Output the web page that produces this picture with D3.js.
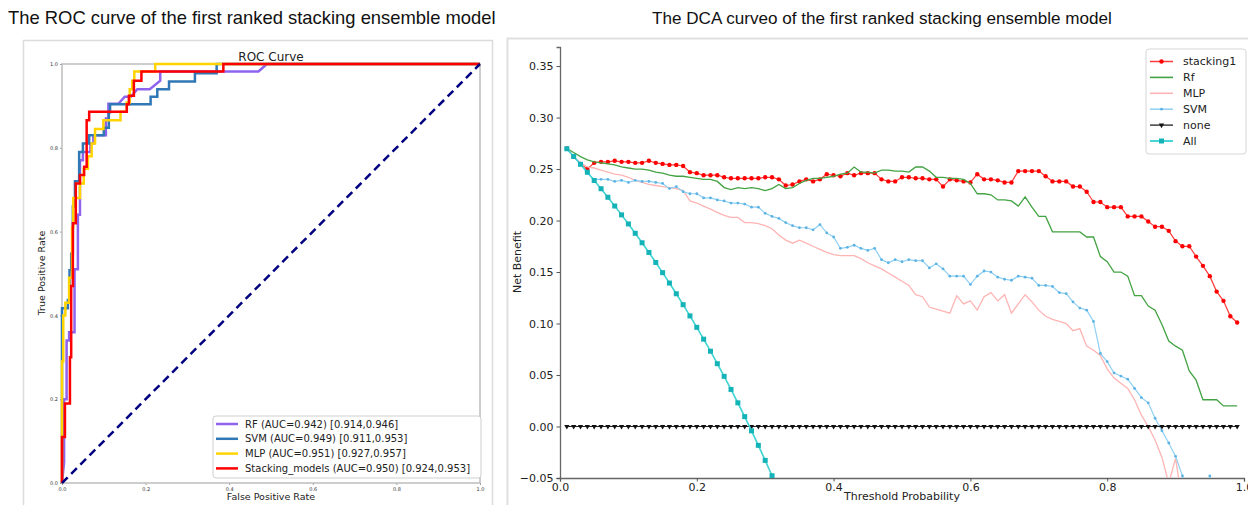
<!DOCTYPE html>
<html>
<head>
<meta charset="utf-8">
<script src="https://cdn.jsdelivr.net/npm/d3@7"></script>
<style>
  body { margin: 0; background: #fff; }
  svg { display: block; font-family: "DejaVu Sans", sans-serif; }
</style>
</head>
<body>
<svg id="chart" width="1248" height="505"></svg>
<script>
// ---------- ROC data (fpr, tpr corners) ----------
const rocTicks = [0, 0.2, 0.4, 0.6, 0.8, 1.0]
const rocDiagonal = [[0, 0], [1, 1]]

const rocRF = [[0,0],[0.005,0.05],[0.005,0.2],[0.011,0.2],[0.011,0.34],[0.017,0.34],[0.017,0.36],[0.03,0.36],[0.03,0.51],[0.038,0.51],[0.038,0.64],[0.043,0.64],[0.043,0.77],[0.05,0.77],[0.05,0.79],[0.068,0.79],[0.068,0.81],[0.075,0.81],[0.075,0.83],[0.105,0.83],[0.105,0.87],[0.111,0.87],[0.111,0.905],[0.135,0.905],[0.15,0.922],[0.165,0.922],[0.18,0.94],[0.21,0.94],[0.235,0.96],[0.235,0.982],[0.47,0.982],[0.49,1],[1,1]]
const rocSVM = [[0,0],[0,0.417],[0.014,0.417],[0.014,0.437],[0.018,0.437],[0.018,0.508],[0.022,0.508],[0.022,0.547],[0.026,0.547],[0.026,0.66],[0.031,0.66],[0.031,0.72],[0.041,0.72],[0.041,0.79],[0.05,0.79],[0.05,0.81],[0.065,0.81],[0.065,0.83],[0.1,0.83],[0.1,0.848],[0.112,0.848],[0.112,0.885],[0.115,0.885],[0.115,0.904],[0.212,0.904],[0.212,0.922],[0.228,0.922],[0.228,0.94],[0.256,0.94],[0.256,0.958],[0.318,0.958],[0.318,0.978],[0.37,0.978],[0.37,1],[1,1]]
const rocMLP = [[0,0],[0,0.29],[0.003,0.29],[0.003,0.4],[0.008,0.4],[0.008,0.43],[0.017,0.43],[0.017,0.49],[0.024,0.49],[0.024,0.61],[0.027,0.61],[0.027,0.68],[0.043,0.68],[0.043,0.715],[0.052,0.715],[0.052,0.75],[0.062,0.75],[0.062,0.78],[0.071,0.78],[0.071,0.81],[0.079,0.81],[0.079,0.845],[0.099,0.845],[0.099,0.866],[0.14,0.866],[0.14,0.886],[0.155,0.886],[0.155,0.908],[0.162,0.908],[0.162,0.94],[0.168,0.94],[0.168,0.96],[0.173,0.96],[0.173,0.982],[0.223,0.982],[0.223,1],[1,1]]
const rocStack = [[0,0],[0,0.11],[0.007,0.11],[0.007,0.19],[0.019,0.19],[0.019,0.30],[0.022,0.30],[0.022,0.47],[0.026,0.47],[0.026,0.62],[0.033,0.62],[0.033,0.715],[0.043,0.715],[0.043,0.735],[0.053,0.735],[0.053,0.755],[0.059,0.755],[0.059,0.866],[0.065,0.866],[0.065,0.886],[0.155,0.886],[0.155,0.904],[0.160,0.904],[0.160,0.924],[0.172,0.924],[0.172,0.96],[0.19,0.96],[0.19,0.982],[0.386,0.982],[0.386,1],[1,1]]

const rocLabels = [
  "RF (AUC=0.942) [0.914,0.946]",
  "SVM (AUC=0.949) [0.911,0.953]",
  "MLP (AUC=0.951) [0.927,0.957]",
  "Stacking_models (AUC=0.950) [0.924,0.953]"
]

// ---------- DCA data ----------
const thresholds = [
  0.01,0.02,0.03,0.04,0.05,0.06,0.07,0.08,0.09,0.10,
  0.11,0.12,0.13,0.14,0.15,0.16,0.17,0.18,0.19,0.20,
  0.21,0.22,0.23,0.24,0.25,0.26,0.27,0.28,0.29,0.30,
  0.31,0.32,0.33,0.34,0.35,0.36,0.37,0.38,0.39,0.40,
  0.41,0.42,0.43,0.44,0.45,0.46,0.47,0.48,0.49,0.50,
  0.51,0.52,0.53,0.54,0.55,0.56,0.57,0.58,0.59,0.60,
  0.61,0.62,0.63,0.64,0.65,0.66,0.67,0.68,0.69,0.70,
  0.71,0.72,0.73,0.74,0.75,0.76,0.77,0.78,0.79,0.80,
  0.81,0.82,0.83,0.84,0.85,0.86,0.87,0.88,0.89,0.90,
  0.91,0.92,0.93,0.94,0.95,0.96,0.97,0.98,0.99
]
const stacking1 = [
  0.270,0.262,0.255,0.250,0.256,0.257,0.257,0.258,0.257,0.257,
  0.256,0.256,0.258,0.256,0.255,0.254,0.254,0.253,0.247,0.246,
  0.244,0.244,0.244,0.242,0.241,0.241,0.241,0.241,0.241,0.242,
  0.242,0.240,0.234,0.235,0.238,0.240,0.238,0.240,0.245,0.244,
  0.243,0.246,0.244,0.246,0.246,0.246,0.240,0.238,0.238,0.242,
  0.242,0.241,0.241,0.240,0.240,0.233,0.240,0.239,0.238,0.237,
  0.245,0.240,0.240,0.239,0.237,0.237,0.248,0.248,0.248,0.248,
  0.243,0.238,0.238,0.238,0.233,0.233,0.228,0.218,0.218,0.213,
  0.213,0.213,0.204,0.204,0.204,0.199,0.194,0.194,0.190,0.180,
  0.175,0.175,0.165,0.156,0.146,0.131,0.122,0.107,0.101
]
const rf = [
  0.270,0.266,0.262,0.259,0.257,0.256,0.255,0.254,0.252,0.251,
  0.250,0.250,0.249,0.247,0.246,0.244,0.243,0.243,0.242,0.241,
  0.240,0.240,0.238,0.232,0.230,0.232,0.231,0.232,0.231,0.229,
  0.231,0.235,0.231,0.232,0.236,0.239,0.241,0.241,0.242,0.243,
  0.245,0.246,0.252,0.247,0.247,0.246,0.249,0.249,0.248,0.248,
  0.247,0.252,0.252,0.248,0.242,0.242,0.241,0.241,0.240,0.236,
  0.226,0.226,0.225,0.220,0.220,0.219,0.214,0.223,0.213,0.204,
  0.204,0.189,0.189,0.189,0.189,0.189,0.184,0.184,0.165,0.160,
  0.150,0.150,0.146,0.127,0.127,0.117,0.113,0.099,0.083,0.078,
  0.074,0.054,0.045,0.026,0.026,0.026,0.020,0.020,0.020
]
const mlp = [
  0.270,0.262,0.256,0.252,0.251,0.249,0.247,0.245,0.244,0.242,
  0.239,0.237,0.235,0.234,0.233,0.232,0.231,0.229,0.219,0.217,
  0.214,0.211,0.208,0.205,0.203,0.203,0.198,0.198,0.197,0.195,
  0.192,0.186,0.181,0.178,0.181,0.178,0.175,0.172,0.169,0.167,
  0.166,0.166,0.166,0.163,0.159,0.156,0.153,0.149,0.145,0.141,
  0.137,0.128,0.126,0.116,0.114,0.112,0.110,0.127,0.119,0.122,
  0.113,0.126,0.130,0.122,0.128,0.110,0.119,0.128,0.121,0.113,
  0.107,0.104,0.102,0.100,0.093,0.095,0.078,0.074,0.069,0.056,
  0.047,0.042,0.037,0.026,0.011,0.000,-0.013,-0.030,-0.055,-0.031,
  -0.075,-0.095,-0.115,-0.135,-0.155,-0.175,-0.195,-0.215,-0.235
]
const svm = [
  0.270,0.262,0.255,0.246,0.240,0.240,0.240,0.238,0.239,0.237,
  0.239,0.238,0.238,0.237,0.236,0.231,0.233,0.228,0.226,0.226,
  0.222,0.222,0.220,0.219,0.217,0.217,0.216,0.213,0.213,0.207,
  0.204,0.202,0.198,0.195,0.193,0.193,0.191,0.196,0.188,0.184,
  0.173,0.174,0.176,0.173,0.171,0.173,0.162,0.159,0.162,0.160,
  0.162,0.161,0.161,0.154,0.158,0.153,0.146,0.146,0.146,0.138,
  0.146,0.151,0.150,0.145,0.143,0.142,0.146,0.145,0.144,0.137,
  0.137,0.136,0.130,0.129,0.121,0.115,0.113,0.102,0.071,0.063,
  0.052,0.049,0.046,0.037,0.028,0.023,0.008,-0.004,-0.016,-0.029,
  -0.048,-0.075,-0.090,-0.070,-0.048,-0.080,-0.110,-0.140,-0.170
]
const none = [
  0,0,0,0,0,0,0,0,0,0, 0,0,0,0,0,0,0,0,0,0,
  0,0,0,0,0,0,0,0,0,0, 0,0,0,0,0,0,0,0,0,0,
  0,0,0,0,0,0,0,0,0,0, 0,0,0,0,0,0,0,0,0,0,
  0,0,0,0,0,0,0,0,0,0, 0,0,0,0,0,0,0,0,0,0,
  0,0,0,0,0,0,0,0,0,0, 0,0,0,0,0,0,0,0,0
]
// treat-all curve, only the visible part (0.01 .. 0.32)
const treatAll = [
  0.2697,0.2622,0.2546,0.2469,0.2389,0.2309,0.2226,0.2141,0.2055,0.1967,
  0.1876,0.1784,0.1690,0.1593,0.1494,0.1393,0.1289,0.1183,0.1074,0.0963,
  0.0848,0.0731,0.0610,0.0487,0.0360,0.0230,0.0096,-0.0042,-0.0183,-0.0329,
  -0.0478,-0.0632
]
const dcaXTicks = [0, 0.2, 0.4, 0.6, 0.8, 1.0]
const dcaYTicks = [-0.05, 0, 0.05, 0.10, 0.15, 0.20, 0.25, 0.30, 0.35]

const svg = d3.select("#chart")
svg.append("rect").attr("width", 1248).attr("height", 505).attr("fill", "#fff")

// page titles
const titleFont = "Arial, 'Liberation Sans', sans-serif"
svg.append("text")
  .attr("x", 8).attr("y", 24)
  .attr("font-family", titleFont).attr("font-size", 18.4).attr("fill", "#111")
  .text("The ROC curve of the first ranked stacking ensemble model")
svg.append("text")
  .attr("x", 882).attr("y", 24).attr("text-anchor", "middle")
  .attr("font-family", titleFont).attr("font-size", 17.1).attr("fill", "#111")
  .text("The DCA curveo of the first ranked stacking ensemble model")

// panel frames
svg.append("rect")
  .attr("x", 23.5).attr("y", 40.5).attr("width", 469).attr("height", 475)
  .attr("fill", "none").attr("stroke", "#dcdcdc").attr("stroke-width", 1.5)
svg.append("rect")
  .attr("x", 507.5).attr("y", 38.5).attr("width", 760).attr("height", 480)
  .attr("fill", "none").attr("stroke", "#e0e0e0").attr("stroke-width", 2)

// ================= ROC panel =================
const xR = d3.scaleLinear().domain([0, 1]).range([62, 480])
const yR = d3.scaleLinear().domain([0, 1]).range([483, 64])
const roc = svg.append("g")

const rocXAxis = roc.append("g")
  .attr("transform", `translate(0,${yR(0)})`)
  .call(d3.axisBottom(xR).tickValues(rocTicks).tickFormat(d3.format(".1f")).tickSize(2).tickPadding(2))
const rocYAxis = roc.append("g")
  .attr("transform", `translate(${xR(0)},0)`)
  .call(d3.axisLeft(yR).tickValues(rocTicks).tickFormat(d3.format(".1f")).tickSize(2).tickPadding(2))
;[rocXAxis, rocYAxis].forEach(a => {
  a.select(".domain").remove()
  a.selectAll(".tick line").attr("stroke", "#999")
  a.selectAll(".tick text").attr("font-size", 5).attr("fill", "#333")
    .attr("font-family", "'DejaVu Sans', sans-serif")
})

roc.append("rect")
  .attr("x", xR(0)).attr("y", yR(1))
  .attr("width", xR(1) - xR(0)).attr("height", yR(0) - yR(1))
  .attr("fill", "none").attr("stroke", "#bdbdbd").attr("stroke-width", 1.5)

roc.append("text")
  .attr("x", 271).attr("y", 61).attr("text-anchor", "middle")
  .attr("font-size", 12).attr("fill", "#222").text("ROC Curve")
roc.append("text")
  .attr("x", 271).attr("y", 500).attr("text-anchor", "middle")
  .attr("font-size", 9.5).attr("fill", "#222").text("False Positive Rate")
roc.append("text")
  .attr("transform", "translate(45,273) rotate(-90)").attr("text-anchor", "middle")
  .attr("font-size", 9.5).attr("fill", "#222").text("True Positive Rate")

const rocLine = d3.line().x(d => xR(d[0])).y(d => yR(d[1]))
const rocSeries = [
  { data: rocRF, color: "#8e63ee", label: rocLabels[0] },
  { data: rocSVM, color: "#2f78b5", label: rocLabels[1] },
  { data: rocMLP, color: "#ffd400", label: rocLabels[2] },
  { data: rocStack, color: "#ff0000", label: rocLabels[3] }
]
roc.selectAll("path.roc")
  .data(rocSeries)
  .join("path")
  .attr("class", "roc")
  .attr("d", d => rocLine(d.data))
  .attr("fill", "none")
  .attr("stroke", d => d.color)
  .attr("stroke-width", 2.5)

roc.append("path")
  .attr("d", rocLine(rocDiagonal))
  .attr("fill", "none").attr("stroke", "#000080")
  .attr("stroke-width", 2.5).attr("stroke-dasharray", "8,5")

// ROC legend
const rocLeg = roc.append("g").attr("transform", "translate(213,416)")
rocLeg.append("rect")
  .attr("width", 268).attr("height", 62).attr("rx", 3)
  .attr("fill", "#fff").attr("stroke", "#cfcfcf")
rocSeries.forEach((s, i) => {
  const y = 8 + i * 14.8
  rocLeg.append("line").attr("x1", 3).attr("x2", 25).attr("y1", y).attr("y2", y)
    .attr("stroke", s.color).attr("stroke-width", 2.5)
  rocLeg.append("text").attr("x", 32).attr("y", y).attr("dy", "0.35em")
    .attr("font-size", 10).attr("fill", "#222").text(s.label)
})

// ================= DCA panel =================
const xD = d3.scaleLinear().domain([0, 1]).range([560, 1244])
const yD = d3.scaleLinear().domain([-0.05, 0.3685]).range([478, 47])
const dca = svg.append("g")

dca.append("clipPath").attr("id", "dcaClip")
  .append("rect").attr("x", xD(0)).attr("y", yD(0.3685))
  .attr("width", xD(1) - xD(0)).attr("height", yD(-0.05) - yD(0.3685))

const dcaXAxis = dca.append("g")
  .attr("transform", `translate(0,${yD(-0.05)})`)
  .call(d3.axisBottom(xD).tickValues(dcaXTicks).tickFormat(d3.format(".1f")).tickSize(3.5).tickPadding(2))
const dcaYAxis = dca.append("g")
  .attr("transform", `translate(${xD(0)},0)`)
  .call(d3.axisLeft(yD).tickValues(dcaYTicks).tickFormat(d3.format(".2f")).tickSize(3.5).tickPadding(3))
;[dcaXAxis, dcaYAxis].forEach(a => {
  a.select(".domain").attr("stroke", "#666").attr("stroke-width", 1.3)
  a.selectAll(".tick line").attr("stroke", "#555")
  a.selectAll(".tick text").attr("font-size", 11).attr("fill", "#222")
    .attr("font-family", "'DejaVu Sans', sans-serif")
})

dca.append("text")
  .attr("x", 902).attr("y", 500).attr("text-anchor", "middle")
  .attr("font-size", 11).attr("fill", "#222").text("Threshold Probability")
dca.append("text")
  .attr("transform", "translate(521,262) rotate(-90)").attr("text-anchor", "middle")
  .attr("font-size", 11).attr("fill", "#222").text("Net Benefit")

const dcaSeries = [
  { name: "stacking1", values: stacking1, line: "#ff3b3b", width: 1.2, marker: "circle", mcolor: "#ff0000", msize: 2.2 },
  { name: "Rf", values: rf, line: "#43a343", width: 1.3, marker: null },
  { name: "MLP", values: mlp, line: "#ffb4b4", width: 1.3, marker: null },
  { name: "SVM", values: svm, line: "#8fd0f2", width: 1.2, marker: "circle", mcolor: "#5cb3e4", msize: 1.4 },
  { name: "none", values: none, line: "#222", width: 1, marker: "tri", mcolor: "#111", msize: 12 },
  { name: "All", values: treatAll, line: "#3fd3d3", width: 1.6, marker: "square", mcolor: "#14b3b8", msize: 5 }
]

const plot = dca.append("g").attr("clip-path", "url(#dcaClip)")
const dcaLine = d3.line().x(d => xD(d[0])).y(d => yD(d[1]))

function drawMarkers(g, pts, s) {
  if (s.marker === "circle") {
    g.selectAll("circle").data(pts).join("circle")
      .attr("cx", d => xD(d[0])).attr("cy", d => yD(d[1]))
      .attr("r", s.msize).attr("fill", s.mcolor)
  } else if (s.marker === "square") {
    g.selectAll("rect").data(pts).join("rect")
      .attr("x", d => xD(d[0]) - s.msize / 2).attr("y", d => yD(d[1]) - s.msize / 2)
      .attr("width", s.msize).attr("height", s.msize).attr("fill", s.mcolor)
  } else if (s.marker === "tri") {
    const sym = d3.symbol(d3.symbolTriangle).size(s.msize)
    g.selectAll("path").data(pts).join("path")
      .attr("d", sym)
      .attr("transform", d => `translate(${xD(d[0])},${yD(d[1])}) rotate(180)`)
      .attr("fill", s.mcolor)
  }
}

dcaSeries.forEach(s => {
  const pts = s.values.map((v, i) => [thresholds[i], v])
  const g = plot.append("g")
  g.append("path").attr("d", dcaLine(pts))
    .attr("fill", "none").attr("stroke", s.line).attr("stroke-width", s.width)
  if (s.marker) drawMarkers(g.append("g"), pts, s)
})

// DCA legend
const dLeg = dca.append("g").attr("transform", "translate(1146,49)")
dLeg.append("rect")
  .attr("width", 100).attr("height", 105).attr("rx", 3)
  .attr("fill", "#fff").attr("stroke", "#d6d6d6")
dcaSeries.forEach((s, i) => {
  const y = 12.5 + i * 15.9
  const row = dLeg.append("g")
  row.append("line").attr("x1", 4).attr("x2", 27).attr("y1", y).attr("y2", y)
    .attr("stroke", s.line).attr("stroke-width", s.width + 0.3)
  if (s.marker) {
    const cx = 15.5
    if (s.marker === "circle") {
      row.append("circle").attr("cx", cx).attr("cy", y).attr("r", s.msize).attr("fill", s.mcolor)
    } else if (s.marker === "square") {
      row.append("rect").attr("x", cx - s.msize / 2).attr("y", y - s.msize / 2)
        .attr("width", s.msize).attr("height", s.msize).attr("fill", s.mcolor)
    } else {
      row.append("path").attr("d", d3.symbol(d3.symbolTriangle).size(s.msize))
        .attr("transform", `translate(${cx},${y}) rotate(180)`).attr("fill", s.mcolor)
    }
  }
  row.append("text").attr("x", 37).attr("y", y).attr("dy", "0.35em")
    .attr("font-size", 11).attr("fill", "#222").text(s.name)
})
</script>
</body>
</html>
